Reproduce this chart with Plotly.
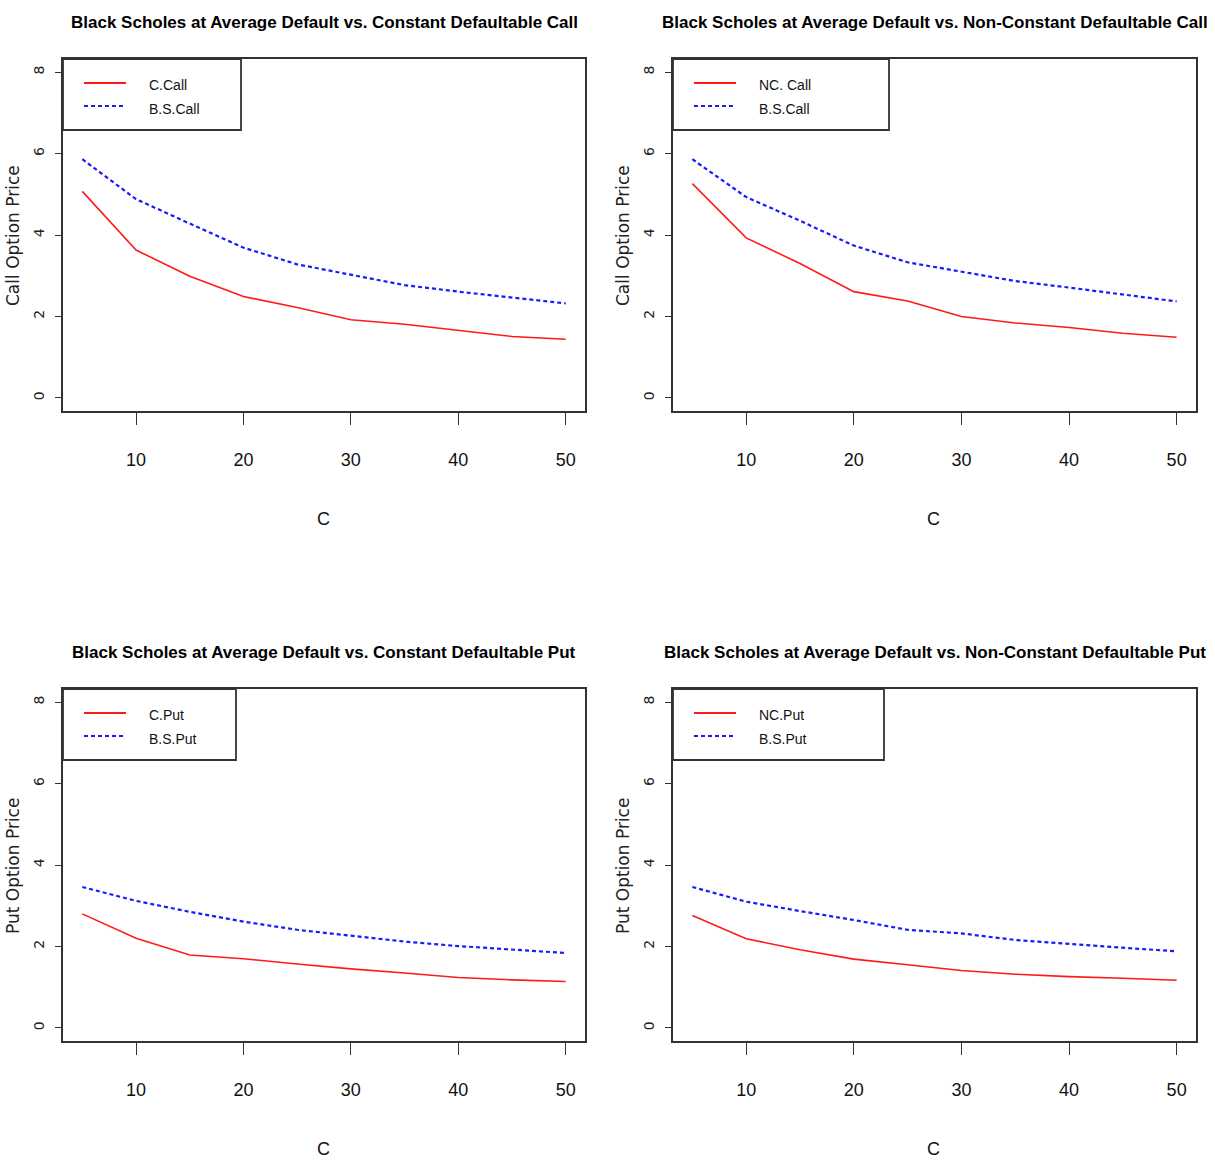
import plotly.graph_objects as go

# Strike prices on the x axis
strike = [5, 10, 15, 20, 25, 30, 35, 40, 45, 50]

# Call option prices
const_call = [5.07, 3.63, 2.99, 2.49, 2.22, 1.92, 1.81, 1.66, 1.51, 1.44]
bs_call_a = [5.86, 4.88, 4.28, 3.69, 3.28, 3.02, 2.77, 2.61, 2.46, 2.32]
nonconst_call = [5.26, 3.93, 3.30, 2.61, 2.38, 2.00, 1.84, 1.73, 1.59, 1.49]
bs_call_b = [5.86, 4.93, 4.35, 3.74, 3.33, 3.10, 2.87, 2.71, 2.54, 2.37]

# Put option prices
const_put = [2.80, 2.20, 1.79, 1.70, 1.57, 1.45, 1.35, 1.24, 1.18, 1.14]
bs_put_a = [3.46, 3.12, 2.85, 2.61, 2.41, 2.26, 2.12, 2.01, 1.92, 1.84]
nonconst_put = [2.76, 2.19, 1.92, 1.69, 1.55, 1.41, 1.32, 1.26, 1.22, 1.17]
bs_put_b = [3.46, 3.10, 2.87, 2.65, 2.41, 2.32, 2.16, 2.06, 1.97, 1.88]

x_ticks = [10, 20, 30, 40, 50]
y_ticks = [0, 2, 4, 6, 8]

titles = [
    "Black Scholes at Average Default vs. Constant Defaultable Call",
    "Black Scholes at Average Default vs. Non-Constant Defaultable Call",
    "Black Scholes at Average Default vs. Constant Defaultable Put",
    "Black Scholes at Average Default vs. Non-Constant Defaultable Put",
]
y_titles = ["Call Option Price", "Call Option Price", "Put Option Price", "Put Option Price"]
red_labels = ["C.Call", "NC. Call", "C.Put", "NC.Put"]
blue_labels = ["B.S.Call", "B.S.Call", "B.S.Put", "B.S.Put"]
red_series = [const_call, nonconst_call, const_put, nonconst_put]
blue_series = [bs_call_a, bs_call_b, bs_put_a, bs_put_b]

W, H = 1215, 1162
NARROW = "Liberation Sans, Arial, sans-serif"
WIDE = "DejaVu Sans, Verdana, sans-serif"
RED = "#ff1a1a"
BLUE = "#1a1aff"
FRAME = "#333333"


def px(x):
    return x / W


def py(y):
    return 1 - y / H


# plot frames in pixels: (left, top, right, bottom) and legend box widths
frames = [(63, 59, 585, 411), (673, 59, 1196, 411),
          (63, 689, 585, 1041), (673, 689, 1196, 1041)]
legend_w = [178, 216, 173, 211]

fig = go.Figure()
annotations = []
shapes = []

for i in range(4):
    n = "" if i == 0 else str(i + 1)
    left, top, right, bottom = frames[i]
    xa, ya = "x" + n, "y" + n

    fig.add_trace(go.Scatter(
        x=strike, y=red_series[i], mode="lines", name=red_labels[i],
        line=dict(color=RED, width=1.6), xaxis=xa, yaxis=ya, showlegend=False))
    fig.add_trace(go.Scatter(
        x=strike, y=blue_series[i], mode="lines", name=blue_labels[i],
        line=dict(color=BLUE, width=2.2, dash="4px,3px"),
        xaxis=xa, yaxis=ya, showlegend=False))

    fig.layout["xaxis" + n] = dict(
        domain=[px(left), px(right)], anchor=ya, range=[3.2, 51.8],
        tickmode="array", tickvals=x_ticks, ticks="outside", ticklen=12,
        tickwidth=1.2, tickcolor=FRAME, showgrid=False, zeroline=False,
        showline=True, linecolor=FRAME, linewidth=1.8, mirror=True,
        ticklabelstandoff=19,
        tickfont=dict(family=NARROW, size=18, color="#111111"))
    fig.layout["yaxis" + n] = dict(
        domain=[py(bottom), py(top)], anchor=xa, range=[-0.32, 8.32],
        tickmode="array", tickvals=y_ticks, ticks="outside", ticklen=6,
        tickwidth=1.2, tickcolor=FRAME, showgrid=False, zeroline=False,
        showline=True, linecolor=FRAME, linewidth=1.8, mirror=True,
        tickangle=-90, ticklabelstandoff=6,
        tickfont=dict(family=WIDE, size=14, color="#222222"))

    cx = (left + right) / 2
    # panel title
    annotations.append(dict(
        text="<b>" + titles[i] + "</b>", x=px(cx), y=py(top - 37),
        xref="paper", yref="paper", showarrow=False,
        xanchor="center", yanchor="middle",
        font=dict(family=NARROW, size=17, color="#000000")))
    # x axis title
    annotations.append(dict(
        text="C", x=px(cx - 1), y=py(bottom + 108), xref="paper", yref="paper",
        showarrow=False, xanchor="center", yanchor="middle",
        font=dict(family=NARROW, size=18, color="#111111")))
    # y axis title
    annotations.append(dict(
        text=y_titles[i], x=px(left - 50), y=py((top + bottom) / 2 + 1),
        xref="paper", yref="paper", showarrow=False, textangle=-90,
        xanchor="center", yanchor="middle",
        font=dict(family=WIDE, size=17, color="#222222")))

    # legend box in the upper left corner
    lw = legend_w[i]
    shapes.append(dict(
        type="rect", xref="paper", yref="paper",
        x0=px(left), x1=px(left + lw), y0=py(top + 71), y1=py(top),
        line=dict(color=FRAME, width=1.8), fillcolor="white"))
    shapes.append(dict(
        type="line", xref="paper", yref="paper",
        x0=px(left + 21), x1=px(left + 63), y0=py(top + 24), y1=py(top + 24),
        line=dict(color=RED, width=1.8)))
    shapes.append(dict(
        type="line", xref="paper", yref="paper",
        x0=px(left + 21), x1=px(left + 61), y0=py(top + 47), y1=py(top + 47),
        line=dict(color=BLUE, width=2.2, dash="4px,3px")))
    annotations.append(dict(
        text=red_labels[i], x=px(left + 84), y=py(top + 26),
        xref="paper", yref="paper", showarrow=False,
        xanchor="left", yanchor="middle",
        font=dict(family=NARROW, size=14, color="#111111")))
    annotations.append(dict(
        text=blue_labels[i], x=px(left + 84), y=py(top + 50),
        xref="paper", yref="paper", showarrow=False,
        xanchor="left", yanchor="middle",
        font=dict(family=NARROW, size=14, color="#111111")))

fig.update_layout(
    width=W, height=H, margin=dict(l=0, r=0, t=0, b=0),
    paper_bgcolor="white", plot_bgcolor="white",
    showlegend=False, annotations=annotations, shapes=shapes)

fig.write_html("out.html")
